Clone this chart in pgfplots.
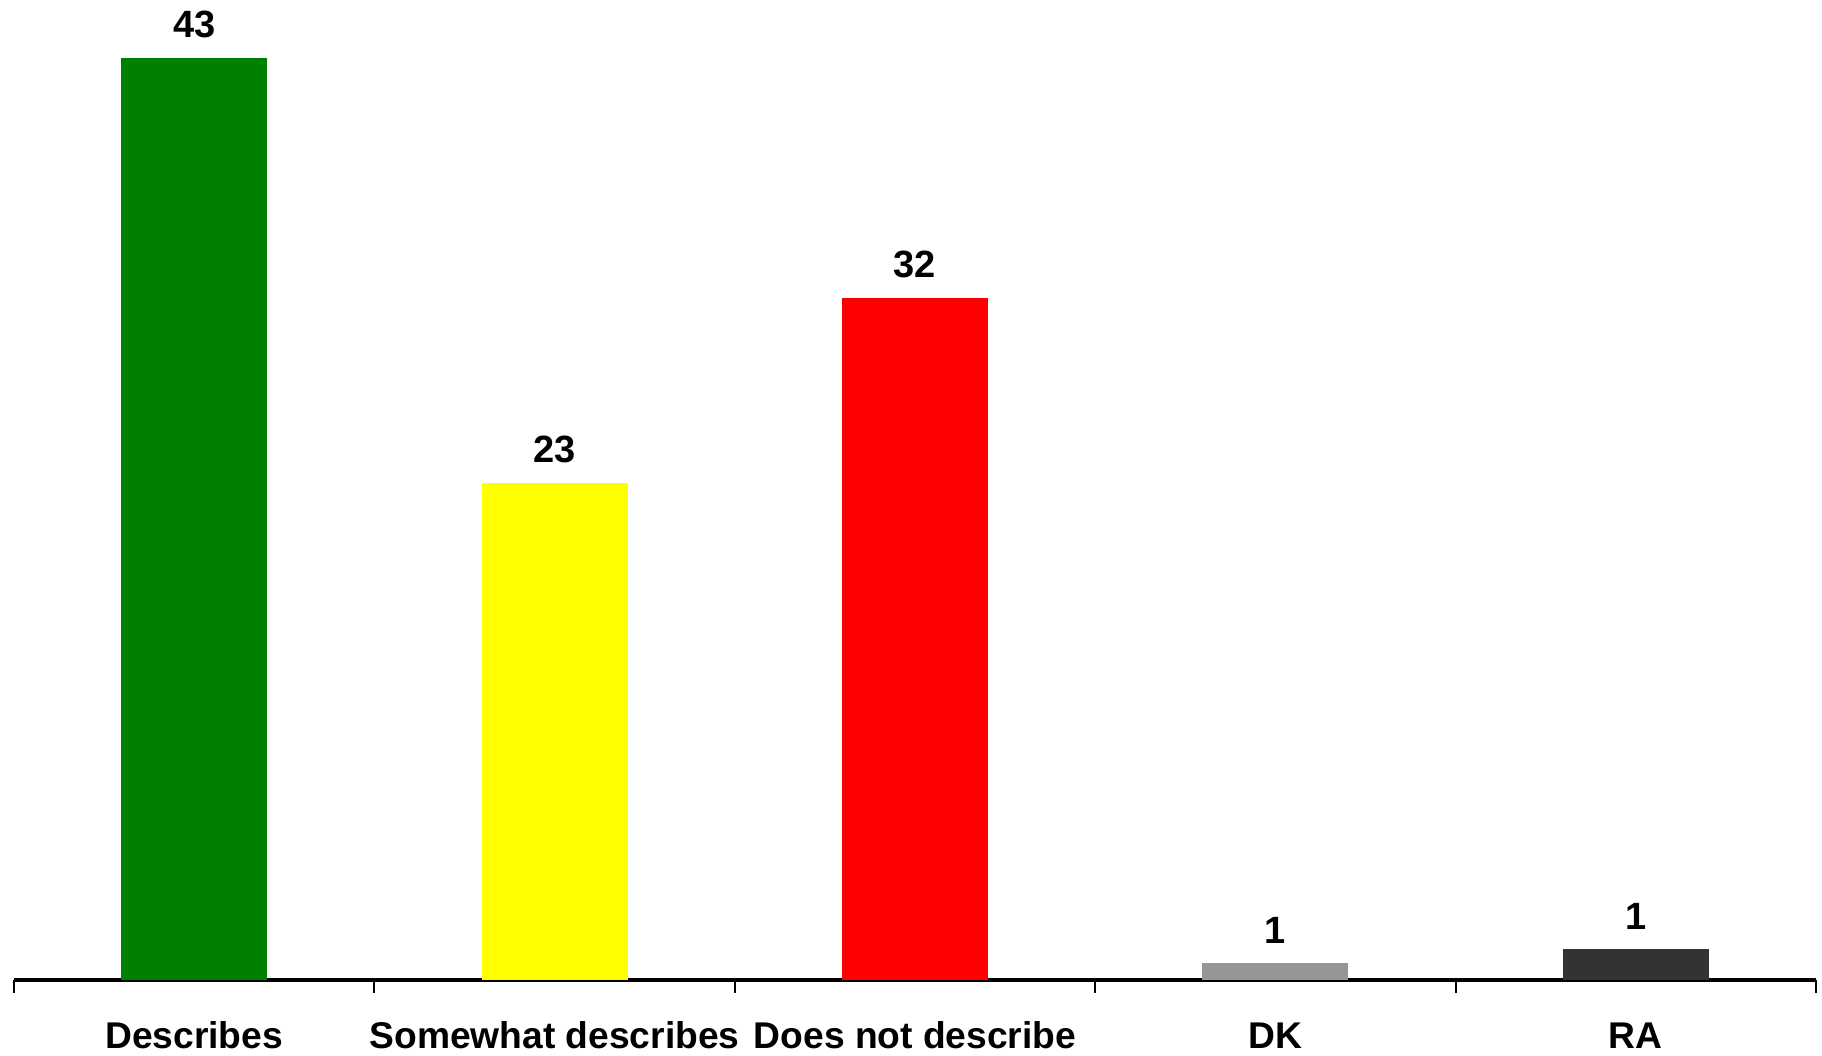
\documentclass[border=0pt]{standalone}
\usepackage{pgfplots}
\pgfplotsset{compat=1.18}
\usepackage{fontspec}
\setmainfont{Liberation Sans}
\definecolor{cgreen}{HTML}{008000}
\definecolor{cyellow}{HTML}{FFFF00}
\definecolor{cred}{HTML}{FF0000}
\definecolor{cgray}{HTML}{969696}
\definecolor{cdark}{HTML}{333333}
\begin{document}
\begin{tikzpicture}
\useasboundingbox (-3.5pt,-19pt) rectangle (452pt,245pt);
\begin{axis}[
  scale only axis,
  width=450.5pt, height=230.5pt,
  xmin=-0.5, xmax=4.5, ymin=0, ymax=43,
  axis x line*=bottom, axis y line=none,
  x axis line style={line width=1pt, -},
  xtick={0,1,2,3,4},
  xticklabels={Describes,Somewhat describes,Does not describe,DK,RA},
  major tick length=0pt,
  minor xtick={-0.5,0.5,1.5,2.5,3.5,4.5},
  minor tick length=3.25pt,
  tick align=outside,
  minor tick style={line width=0.5pt, black},
  xticklabel style={inner sep=0pt, anchor=base, yshift=-17.2pt, font=\fontsize{9.3}{11}\selectfont\bfseries},
  ybar, bar width=36.5pt, bar shift=0pt,
  clip=false,
  point meta=explicit symbolic,
  nodes near coords,
  nodes near coords style={inner sep=0pt, anchor=south, yshift=4.75pt, font=\fontsize{9.5}{11}\selectfont\bfseries},
]
\addplot[fill=cgreen, draw=none] coordinates {(0,43) [43]};
\addplot[fill=cyellow, draw=none] coordinates {(1,23.2) [23]};
\addplot[fill=cred, draw=none] coordinates {(2,31.8) [32]};
\addplot[fill=cgray, draw=none] coordinates {(3,0.8) [1]};
\addplot[fill=cdark, draw=none] coordinates {(4,1.45) [1]};
\end{axis}
\end{tikzpicture}
\end{document}
